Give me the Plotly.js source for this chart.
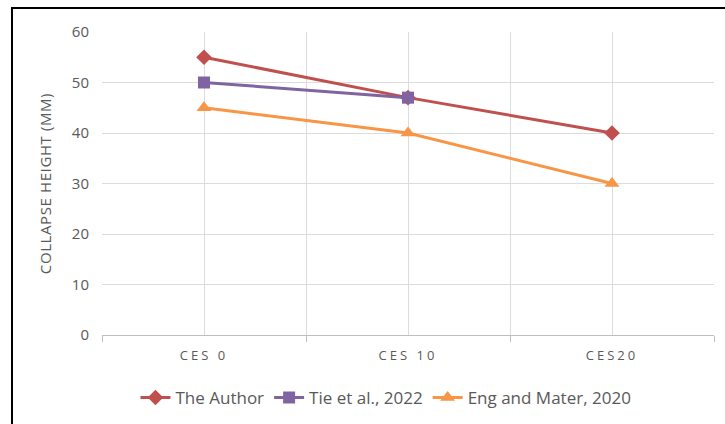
<!DOCTYPE html>
<html>
<head>
<meta charset="utf-8">
<script src="https://cdn.plot.ly/plotly-3.0.1.min.js"></script>
<style>
  html, body { margin: 0; padding: 0; background: #fff; }
  #frame { position: absolute; left: 11px; top: 7px; width: 760px; height: 460px; border: 2px solid #000; box-sizing: border-box; }
  #chart { position: absolute; left: 0; top: 0; width: 725px; height: 424px; }
  .xtick text { letter-spacing: 3px; }
  .g-ytitle text { letter-spacing: 0.6px; }
</style>
</head>
<body>
<div id="frame"></div>
<div id="chart"></div>
<script>
// categories and series values
const categories = ['CES 0', 'CES 10', 'CES20'];
const authorValues = [55, 47, 40];
const tieCategories = ['CES 0', 'CES 10'];
const tieValues = [50, 47];
const engValues = [45, 40, 30];

const textColor = '#595959';
const gridColor = '#dcdcdc';

const traces = [
    {
        x: categories, y: authorValues, name: 'The Author', mode: 'lines+markers',
        line: {color: '#c0504d', width: 3},
        marker: {symbol: 'diamond', size: 12, color: '#c0504d'}
    },
    {
        x: tieCategories, y: tieValues, name: 'Tie et al., 2022', mode: 'lines+markers',
        line: {color: '#8064a2', width: 3},
        marker: {symbol: 'square', size: 12, color: '#8064a2'}
    },
    {
        x: categories, y: engValues, name: 'Eng and Mater, 2020', mode: 'lines+markers',
        line: {color: '#f79646', width: 3},
        marker: {symbol: 'triangle-up', size: 13, color: '#f79646'}
    },
    // invisible helper so the second x axis draws its centre gridlines
    {
        x: categories, y: engValues, xaxis: 'x2', mode: 'none',
        showlegend: false, hoverinfo: 'skip'
    }
];

const layout = {
    width: 725,
    height: 424,
    paper_bgcolor: 'rgba(0,0,0,0)',
    plot_bgcolor: 'rgba(0,0,0,0)',
    margin: {l: 102, r: 11, t: 32, b: 89, autoexpand: false},
    font: {family: 'Open Sans, sans-serif', color: textColor},
    showlegend: true,
    legend: {
        orientation: 'h', x: 0.464, xanchor: 'center', y: -0.208, yanchor: 'middle',
        font: {size: 17, color: textColor}, tracegroupgap: 0
    },
    xaxis: {
        type: 'category',
        categoryarray: categories,
        range: [-0.5, 2.5],
        tickson: 'boundaries',
        ticks: 'outside', ticklen: 6, tickcolor: '#bfbfbf',
        ticklabelstandoff: 8,
        showgrid: true, gridcolor: gridColor,
        showline: true, linecolor: '#bfbfbf', linewidth: 1,
        tickfont: {size: 13, color: textColor},
        automargin: false,
        fixedrange: true
    },
    xaxis2: {
        type: 'category',
        categoryarray: categories,
        range: [-0.5, 2.5],
        overlaying: 'x',
        showgrid: true, gridcolor: gridColor,
        showticklabels: false, ticks: '',
        showline: false
    },
    yaxis: {
        range: [0, 60], dtick: 10,
        showgrid: true, gridcolor: gridColor,
        zeroline: false, showline: false,
        ticks: '', ticklen: 0, ticklabelstandoff: 12,
        tickfont: {size: 15, color: textColor},
        automargin: false,
        title: {text: 'COLLAPSE HEIGHT (MM)', font: {size: 15, color: textColor}, standoff: 16}
    }
};

Plotly.newPlot('chart', traces, layout, {displayModeBar: false, staticPlot: true});
</script>
</body>
</html>
